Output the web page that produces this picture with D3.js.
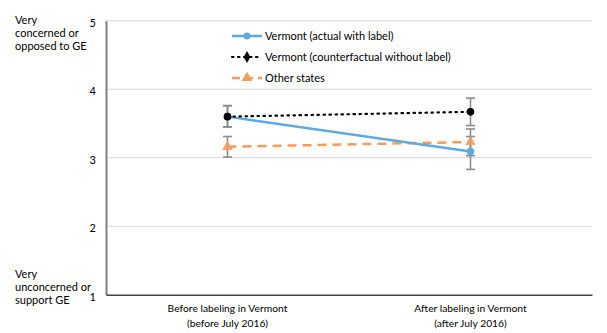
<!DOCTYPE html>
<html><head><meta charset="utf-8">
<script src="https://cdn.jsdelivr.net/npm/d3@7"></script>
<style>body{margin:0;background:#fff;} text{font-family:Lato, "Open Sans", sans-serif;}</style>
</head><body><svg id="c" width="607" height="333"></svg>
<script>
const categories = ["Before labeling in Vermont\n(before July 2016)", "After labeling in Vermont\n(after July 2016)"];
const seriesNames = ["Vermont (actual with label)", "Vermont (counterfactual without label)", "Other states"];
const vtActual = [3.60, 3.09];
const vtActualLo = [3.45, 2.83];
const vtActualHi = [3.76, 3.31];
const vtCounter = [3.60, 3.67];
const vtCounterLo = [3.45, 3.47];
const vtCounterHi = [3.76, 3.87];
const other = [3.16, 3.23];
const otherLo = [3.01, 3.03];
const otherHi = [3.31, 3.42];
const yTicks = [1, 2, 3, 4, 5];
const yTopLabel = ["Very", "concerned or", "opposed to GE"];
const yBottomLabel = ["Very", "unconcerned or", "support GE"];

const svg = d3.select("#c");
const L = 106, R = 592, T = 20.7, B = 294.8;
const x = d3.scaleBand().domain(d3.range(categories.length)).range([L, R]);
const y = d3.scaleLinear().domain([1, 5]).range([B, T]);
const cx = i => x(i) + x.bandwidth() / 2;

// gridlines
svg.append("g").selectAll("line").data(yTicks.filter(d => d > 1)).join("line")
  .attr("x1", L).attr("x2", R).attr("y1", d => y(d)).attr("y2", d => y(d))
  .attr("stroke", "#d9d9d9").attr("stroke-width", 1);

// y axis
const ya = svg.append("g").attr("transform", `translate(${L},0)`)
  .call(d3.axisLeft(y).tickValues(yTicks).tickFormat(d3.format("d")).tickSize(0).tickPadding(10));
ya.select(".domain").attr("stroke", "#808080").attr("stroke-width", 2);
ya.selectAll("text").attr("font-size", 11).attr("fill", "#000").attr("dy", "0.5em");

// x axis
const xa = svg.append("g").attr("transform", `translate(0,${B})`)
  .call(d3.axisBottom(x).tickSize(0).tickFormat(""));
xa.select(".domain").attr("stroke", "#404040").attr("stroke-width", 1.5);
xa.selectAll(".tick").each(function(d) {
  const t = d3.select(this).append("text").attr("fill", "#000").attr("font-size", 10.3).attr("text-anchor", "middle");
  categories[d].split("\n").forEach((s, k) => t.append("tspan").attr("x", 0).attr("y", 17.5 + k * 14.5).text(s));
});

// y labels
const yl = (lines, y0) => {
  const t = svg.append("text").attr("font-size", 11).attr("fill", "#000");
  lines.forEach((s, k) => t.append("tspan").attr("x", 15).attr("y", y0 + k * 12.8).text(s));
};
yl(yTopLabel, 24);
yl(yBottomLabel, 278);

// error bars
const errs = [[vtActualLo, vtActualHi], [vtCounterLo, vtCounterHi], [otherLo, otherHi]];
const eg = svg.append("g").attr("stroke", "#8c8c8c").attr("stroke-width", 1.6);
errs.forEach(([lo, hi]) => {
  lo.forEach((l, i) => {
    eg.append("line").attr("x1", cx(i)).attr("x2", cx(i)).attr("y1", y(l)).attr("y2", y(hi[i]));
    [l, hi[i]].forEach(v => eg.append("line").attr("x1", cx(i) - 4.5).attr("x2", cx(i) + 4.5).attr("y1", y(v)).attr("y2", y(v)));
  });
});

const line = d3.line().x((d, i) => cx(i)).y(d => y(d));
const blue = "#5ea9dd", orange = "#f79a5a";
// other states
svg.append("path").datum(other).attr("d", line).attr("fill", "none").attr("stroke", orange).attr("stroke-width", 2.5).attr("stroke-dasharray", "9,6");
// actual
svg.append("path").datum(vtActual).attr("d", line).attr("fill", "none").attr("stroke", blue).attr("stroke-width", 2.5);
// counter
svg.append("path").datum(vtCounter).attr("d", line).attr("fill", "none").attr("stroke", "#000").attr("stroke-width", 2.2).attr("stroke-dasharray", "1.5,4.5").attr("stroke-linecap", "round");

const tri = d3.symbol().type(d3.symbolTriangle).size(50);
const dia = d3.symbol().type(d3.symbolDiamond).size(40);
svg.append("g").selectAll("path").data(other).join("path").attr("d", tri)
  .attr("transform", (d, i) => `translate(${cx(i)},${y(d)})`).attr("fill", orange).attr("opacity", 0.85);
svg.append("g").selectAll("circle").data(vtActual).join("circle")
  .attr("cx", (d, i) => cx(i)).attr("cy", d => y(d)).attr("r", 3.8).attr("fill", blue);
svg.append("g").selectAll("circle").data(vtCounter).join("circle")
  .attr("cx", (d, i) => cx(i)).attr("cy", d => y(d)).attr("r", 3.8).attr("fill", "#000");

// legend
const lg = svg.append("g");
const rows = [36, 57, 78];
const lx1 = 232, lx2 = 262, lm = 247;
lg.append("line").attr("x1", lx1).attr("x2", lx2).attr("y1", rows[0]).attr("y2", rows[0]).attr("stroke", blue).attr("stroke-width", 2.5);
lg.append("circle").attr("cx", lm).attr("cy", rows[0]).attr("r", 3.5).attr("fill", blue);
lg.append("line").attr("x1", lx1).attr("x2", lx2).attr("y1", rows[1]).attr("y2", rows[1]).attr("stroke", "#000").attr("stroke-width", 2.2).attr("stroke-dasharray", "1.5,4.5").attr("stroke-linecap", "round");
lg.append("path").attr("d", dia).attr("transform", `translate(${lm},${rows[1]})`).attr("fill", "#000");
lg.append("line").attr("x1", lx1).attr("x2", lx2).attr("y1", rows[2]).attr("y2", rows[2]).attr("stroke", orange).attr("stroke-width", 2.5).attr("stroke-dasharray", "8,5");
lg.append("path").attr("d", tri).attr("transform", `translate(${lm},${rows[2]})`).attr("fill", orange);
seriesNames.forEach((s, k) => lg.append("text").attr("x", 265).attr("y", rows[k] + 4).attr("font-size", 11).attr("fill", "#000").text(s));
</script></body></html>
